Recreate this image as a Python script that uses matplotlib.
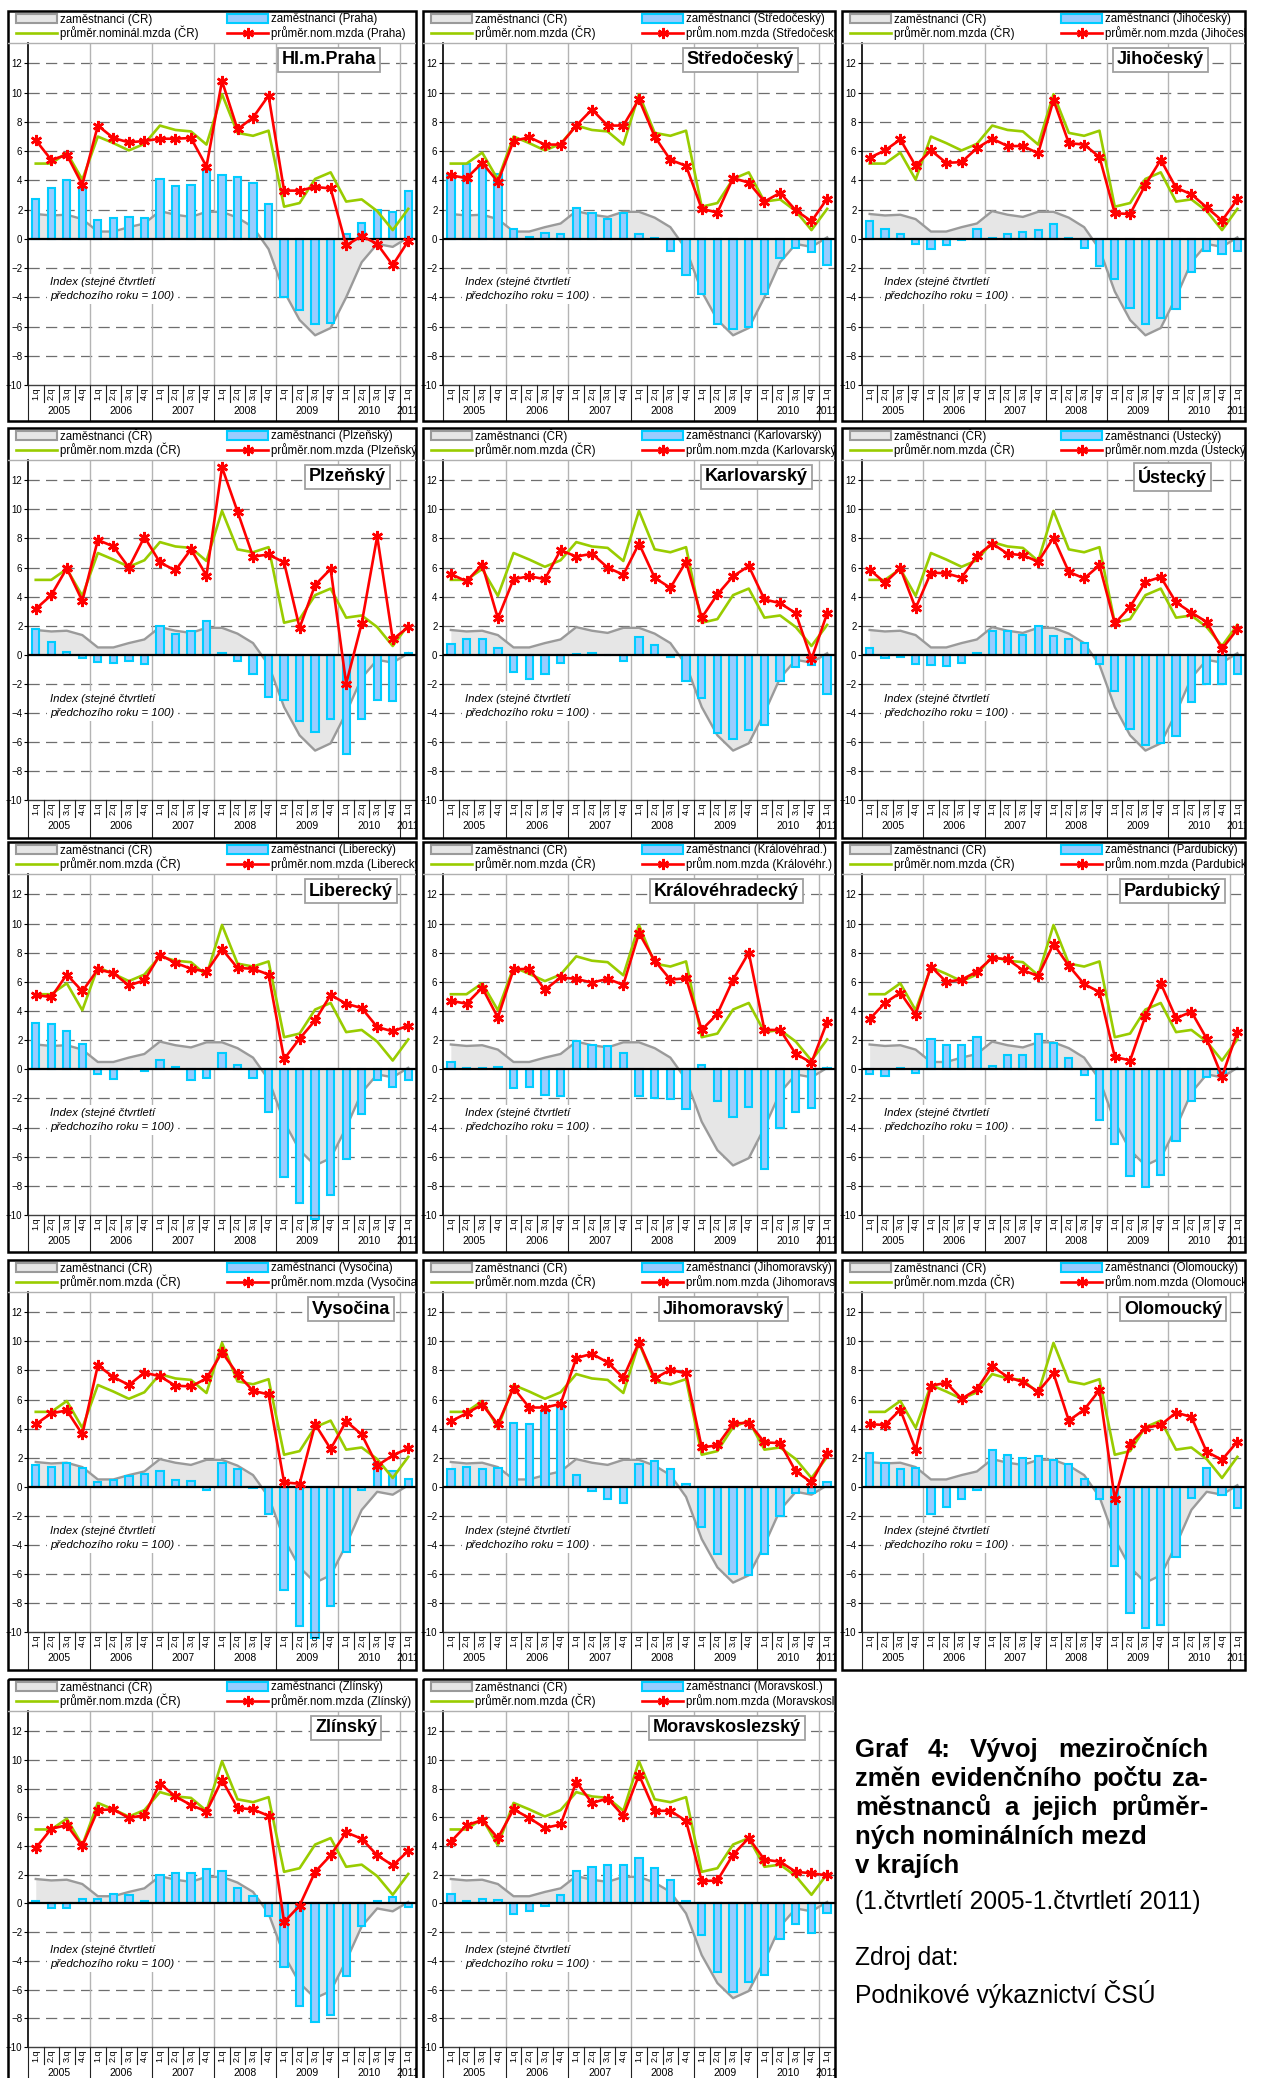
import numpy as np
import matplotlib
matplotlib.use('Agg')
import matplotlib.pyplot as plt
from matplotlib.patches import Rectangle

plt.rcParams['font.family'] = ['Liberation Sans', 'DejaVu Sans']

# ---------------- data ----------------
quarters = ['1.q', '2.q', '3.q', '4.q'] * 6 + ['1.q']
years = ['2005', '2006', '2007', '2008', '2009', '2010', '2011']

emp_cr = [1.7, 1.6, 1.65, 1.35, 0.5, 0.5, 0.8, 1.05, 1.9, 1.65, 1.5, 1.85,
          1.85, 1.45, 0.8, -0.7, -3.6, -5.55, -6.6, -6.1, -4.0, -1.6, -0.35, -0.55, 0.1]
wage_cr = [5.15, 5.15, 5.9, 4.05, 7.0, 6.55, 6.05, 6.5, 7.75, 7.45, 7.35, 6.45,
           9.9, 7.25, 7.05, 7.4, 2.2, 2.45, 4.1, 4.55, 2.55, 2.7, 1.9, 0.6, 2.05]

emp_praha = [2.7, 3.5, 4.0, 3.4, 1.3, 1.4, 1.5, 1.4, 4.1, 3.6, 3.7, 4.7,
             4.4, 4.2, 3.85, 2.4, -4.0, -4.9, -5.8, -5.75, 0.3, 1.1, 1.95, 1.85, 3.3]
wage_praha = [6.75, 5.4, 5.75, 3.7, 7.75, 6.9, 6.6, 6.7, 6.85, 6.85, 6.9, 4.95,
              10.8, 7.5, 8.3, 9.8, 3.3, 3.3, 3.55, 3.45, -0.45, 0.2, -0.35, -1.8, -0.15]

emp_stred = [4.4, 5.1, 5.0, 4.45, 0.65, 0.1, 0.4, 0.3, 2.1, 1.75, 1.35, 1.8,
             0.35, 0.05, -0.8, -2.45, -3.8, -5.8, -6.15, -6.0, -3.8, -1.3, -0.65, -0.9, -1.8]
wage_stred = [4.35, 4.15, 5.2, 3.9, 6.7, 6.95, 6.45, 6.45, 7.75, 8.85, 7.75, 7.75,
              9.55, 7.0, 5.4, 5.0, 2.05, 1.8, 4.15, 3.85, 2.55, 3.15, 1.95, 1.2, 2.75]

emp_jihoc = [1.2, 0.65, 0.35, -0.35, -0.7, -0.4, -0.1, 0.7, 0.05, 0.35, 0.5, 0.6,
             1.0, 0.05, -0.65, -1.85, -2.75, -4.75, -5.85, -5.4, -4.8, -2.25, -0.8, -1.05, -0.8]
wage_jihoc = [5.55, 6.05, 6.8, 5.0, 6.05, 5.2, 5.25, 6.2, 6.85, 6.35, 6.35, 5.85,
              9.5, 6.55, 6.45, 5.6, 1.75, 1.7, 3.7, 5.4, 3.5, 3.05, 2.15, 1.25, 2.7]

emp_plzen = [1.8, 0.85, 0.2, -0.25, -0.5, -0.6, -0.4, -0.65, 1.95, 1.4, 1.6, 2.35,
             0.1, -0.4, -1.35, -2.9, -3.1, -4.55, -5.3, -4.4, -6.8, -4.4, -3.1, -3.2, 0.1]
wage_plzen = [3.15, 4.1, 5.95, 3.7, 7.9, 7.45, 6.0, 8.1, 6.35, 5.8, 7.25, 5.45,
              12.9, 9.85, 6.75, 6.9, 6.35, 1.85, 4.8, 5.9, -2.0, 2.15, 8.15, 1.05, 1.9]

emp_karlov = [0.75, 1.05, 1.1, 0.45, -1.2, -1.65, -1.35, -0.6, 0.05, 0.15, 0.0, -0.4,
              1.2, 0.65, -0.15, -1.8, -3.0, -5.4, -5.8, -5.2, -4.85, -1.8, -0.85, -0.7, -2.7]
wage_karlov = [5.55, 5.05, 6.2, 2.5, 5.2, 5.4, 5.2, 7.2, 6.75, 6.95, 6.0, 5.5,
               7.65, 5.3, 4.6, 6.4, 2.55, 4.15, 5.4, 6.1, 3.8, 3.55, 2.85, -0.3, 2.85]

emp_ustec = [0.45, -0.2, -0.15, -0.65, -0.7, -0.8, -0.55, 0.15, 1.6, 1.6, 1.35, 1.95,
             1.3, 1.1, 0.8, -0.65, -2.5, -5.1, -6.2, -6.05, -5.6, -3.25, -2.0, -2.0, -1.35]
wage_ustec = [5.85, 4.95, 5.95, 3.2, 5.65, 5.6, 5.3, 6.8, 7.65, 6.95, 6.85, 6.4,
              8.05, 5.7, 5.25, 6.15, 2.15, 3.3, 5.0, 5.35, 3.6, 2.9, 2.25, 0.4, 1.75]

emp_liber = [3.2, 3.1, 2.65, 1.75, -0.3, -0.65, 0.05, -0.15, 0.65, 0.15, -0.75, -0.6,
             1.1, 0.3, -0.6, -2.9, -7.4, -9.15, -10.3, -8.6, -6.15, -3.1, -0.75, -1.2, -0.75]
wage_liber = [5.1, 4.95, 6.5, 5.35, 6.85, 6.6, 5.75, 6.1, 7.85, 7.3, 6.9, 6.7,
              8.25, 6.95, 6.9, 6.5, 0.7, 2.1, 3.35, 5.1, 4.5, 4.2, 2.9, 2.6, 3.0]

emp_kralo = [0.5, 0.1, 0.1, 0.15, -1.3, -1.25, -1.75, -1.85, 1.95, 1.65, 1.6, 1.1,
             -1.85, -2.0, -2.05, -2.75, 0.3, -2.2, -3.25, -2.6, -6.85, -4.05, -2.95, -2.65, 0.1]
wage_kralo = [4.7, 4.5, 5.6, 3.55, 6.85, 6.9, 5.45, 6.3, 6.2, 5.95, 6.2, 5.8,
              9.35, 7.45, 6.15, 6.25, 2.7, 3.8, 6.15, 8.0, 2.7, 2.7, 1.05, 0.45, 3.25]

emp_pardu = [-0.3, -0.45, 0.1, -0.25, 2.1, 1.7, 1.7, 2.2, 0.25, 1.0, 0.95, 2.45,
             1.8, 0.75, -0.4, -3.45, -5.15, -7.3, -8.1, -7.25, -4.95, -2.15, -0.55, -0.25, 0.05]
wage_pardu = [3.45, 4.55, 5.25, 3.75, 7.05, 6.0, 6.15, 6.7, 7.65, 7.55, 6.8, 6.4,
              8.6, 7.1, 5.85, 5.3, 0.85, 0.6, 3.65, 5.9, 3.5, 3.95, 2.1, -0.5, 2.55]

emp_vysoc = [1.5, 1.35, 1.6, 1.3, 0.3, 0.45, 0.75, 0.85, 1.05, 0.45, 0.4, -0.25,
             1.6, 1.25, -0.1, -1.85, -7.1, -9.6, -10.4, -8.2, -4.5, -0.25, 1.6, 1.1, 0.55]
wage_vysoc = [4.3, 5.05, 5.25, 3.6, 8.35, 7.55, 7.0, 7.85, 7.6, 6.95, 6.9, 7.45,
              9.25, 7.75, 6.6, 6.35, 0.3, 0.2, 4.3, 2.6, 4.5, 3.6, 1.45, 2.15, 2.65]

emp_jihom = [1.25, 1.35, 1.25, 1.3, 4.4, 4.3, 5.2, 5.6, 0.8, -0.3, -0.85, -1.1,
             1.55, 1.75, 1.25, 0.2, -2.75, -4.6, -6.0, -6.1, -4.65, -2.05, -0.4, -0.45, 0.3]
wage_jihom = [4.5, 5.05, 5.65, 4.3, 6.8, 5.45, 5.45, 5.7, 8.85, 9.15, 8.55, 7.5,
              9.95, 7.45, 8.05, 7.8, 2.7, 2.85, 4.35, 4.4, 3.05, 3.0, 1.05, 0.3, 2.3]

emp_olomo = [2.35, 1.6, 1.25, 1.3, -1.85, -1.4, -0.85, -0.2, 2.5, 2.15, 1.95, 2.1,
             1.85, 1.55, 0.5, -0.85, -5.45, -8.7, -9.7, -9.55, -4.85, -0.75, 1.3, -0.55, -1.5]
wage_olomo = [4.3, 4.25, 5.3, 2.55, 6.95, 7.15, 6.05, 6.7, 8.3, 7.55, 7.2, 6.55,
              7.8, 4.55, 5.3, 6.65, -0.85, 2.95, 4.05, 4.25, 5.1, 4.8, 2.4, 1.85, 3.1]

emp_zlins = [0.15, -0.3, -0.3, 0.3, 0.3, 0.65, 0.6, 0.15, 1.95, 2.15, 2.1, 2.4,
             2.25, 1.05, 0.5, -0.9, -4.4, -7.15, -8.25, -7.75, -5.05, -1.6, 0.15, 0.45, -0.25]
wage_zlins = [3.85, 5.2, 5.45, 4.0, 6.5, 6.55, 5.95, 6.15, 8.35, 7.45, 6.85, 6.4,
              8.6, 6.65, 6.55, 6.1, -1.3, -0.15, 2.2, 3.35, 4.95, 4.5, 3.35, 2.65, 3.65]

emp_morav = [0.65, 0.2, 0.3, 0.25, -0.75, -0.5, -0.15, 0.6, 2.25, 2.55, 2.7, 2.65,
             3.15, 2.45, 1.65, 0.15, -2.2, -4.8, -6.2, -5.45, -5.0, -2.45, -1.4, -2.05, -0.7]
wage_morav = [4.3, 5.45, 5.8, 4.55, 6.55, 5.95, 5.25, 5.5, 8.45, 7.0, 7.3, 6.1,
              8.95, 6.45, 6.45, 5.75, 1.55, 1.6, 3.4, 4.55, 3.05, 2.9, 2.2, 2.1, 1.95]

region_titles = ['Hl.m.Praha', 'Středočeský', 'Jihočeský', 'Plzeňský', 'Karlovarský', 'Ústecký',
                 'Liberecký', 'Královéhradecký', 'Pardubický', 'Vysočina', 'Jihomoravský',
                 'Olomoucký', 'Zlínský', 'Moravskoslezský']
legend_emp = ['zaměstnanci (Praha)', 'zaměstnanci (Středočeský)', 'zaměstnanci (Jihočeský)',
              'zaměstnanci (Plzeňský)', 'zaměstnanci (Karlovarský)', 'zaměstnanci (Ústecký)',
              'zaměstnanci (Liberecký)', 'zaměstnanci (Královéhrad.)', 'zaměstnanci (Pardubický)',
              'zaměstnanci (Vysočina)', 'zaměstnanci (Jihomoravský)', 'zaměstnanci (Olomoucký)',
              'zaměstnanci (Zlínský)', 'zaměstnanci (Moravskosl.)']
legend_wcr = ['průměr.nominál.mzda (ČR)'] + ['průměr.nom.mzda (ČR)'] * 13
legend_wreg = ['průměr.nom.mzda (Praha)', 'prům.nom.mzda (Středočeský)', 'průměr.nom.mzda (Jihočeský)',
               'průměr.nom.mzda (Plzeňský)', 'prům.nom.mzda (Karlovarský)', 'průměr.nom.mzda (Ústecký)',
               'průměr.nom.mzda (Liberecký)', 'prům.nom.mzda (Královéhr.)', 'prům.nom.mzda (Pardubický)',
               'průměr.nom.mzda (Vysočina)', 'prům.nom.mzda (Jihomoravs.)', 'prům.nom.mzda (Olomoucký)',
               'průměr.nom.mzda (Zlínský)', 'prům.nom.mzda (Moravskosl.)']
emp_series = [emp_praha, emp_stred, emp_jihoc, emp_plzen, emp_karlov, emp_ustec, emp_liber,
              emp_kralo, emp_pardu, emp_vysoc, emp_jihom, emp_olomo, emp_zlins, emp_morav]
wage_series = [wage_praha, wage_stred, wage_jihoc, wage_plzen, wage_karlov, wage_ustec, wage_liber,
               wage_kralo, wage_pardu, wage_vysoc, wage_jihom, wage_olomo, wage_zlins, wage_morav]

caption_bold = ['Graf 4: Vývoj meziročních', 'změn evidenčního počtu za-',
                'městnanců a jejich průměr-', 'ných nominálních mezd', 'v krajích']
caption_period = '(1.čtvrtletí 2005-1.čtvrtletí 2011)'
caption_source = ['Zdroj dat:', 'Podnikové výkaznictví ČSÚ']
index_note = 'Index (stejné čtvrtletí\npředchozího roku = 100)'

# ---------------- layout ----------------
W, H = 1264, 2078
fig = plt.figure(figsize=(W / 100, H / 100), dpi=100)
fig.patch.set_facecolor('white')

cols = [(8, 416), (423, 835), (842, 1245)]
rows_top = [11, 428, 842, 1260, 1679]
rows_ph = [374, 372, 373, 372, 368]
title_off = [36, 37, 37, 26, 23, 34, 19, 32, 20, 22, 47, 19, 35, 30]

C_AREA, C_AREA_E = '#e6e6e6', '#9a9a9a'
C_BAR, C_BAR_E = '#99ccff', '#00ccff'
C_GREEN, C_RED = '#99cc00', '#ff0000'
STAR = (6, 2, 0)


def axpx(l, t, r, b):
    return fig.add_axes([l / W, 1 - b / H, (r - l) / W, (b - t) / H])


def panel(i, L, R, T, ph):
    pl, pt, pb, bot = L + 20, T + 32, T + ph, T + 410
    x = np.arange(len(quarters))
    ax = axpx(pl, pt, R, pb)
    ax.patch.set_visible(False)
    ax.set_xlim(-0.5, 24.5)
    ax.set_ylim(-10, 13.4)
    for y in range(-8, 13, 2):
        if y != 0:
            ax.axhline(y, color='#6e6e6e', lw=0.9, ls=(0, (9, 5)), zorder=0)
    for xv in [3.5, 7.5, 11.5, 15.5, 19.5, 23.5]:
        ax.axvline(xv, color='#b4b4b4', lw=1.0, zorder=0)
    ax.fill_between(x, 0, emp_cr, color=C_AREA, lw=0, zorder=1)
    ax.plot(x, emp_cr, color=C_AREA_E, lw=1.7, zorder=1.5)
    ax.bar(x, emp_series[i], width=0.47, color=C_BAR, edgecolor=C_BAR_E, lw=1.5,
           zorder=2, clip_on=False)
    ax.axhline(0, color='black', lw=1.6, zorder=3)
    ax.plot(x, wage_cr, color=C_GREEN, lw=1.9, zorder=4)
    ax.plot(x, wage_series[i], color=C_RED, lw=1.9, marker=STAR, ms=8, mew=1.8, zorder=5)
    ax.set_yticks(range(-10, 13, 2))
    ax.set_xticks([])
    ax.tick_params(axis='y', labelsize=7, length=3, width=0.8, pad=1)
    for s in ['top', 'right']:
        ax.spines[s].set_visible(False)
    ax.spines['left'].set_color('black')
    ax.spines['left'].set_linewidth(1.2)
    ax.spines['bottom'].set_color('#404040')
    ax.spines['bottom'].set_linewidth(1.0)
    # region title box
    ax.text((R - title_off[i] - 4 - pl) / (R - pl), (pb - (T + 49)) / (pb - pt), region_titles[i],
            transform=ax.transAxes, ha='right', va='center', fontsize=13, fontweight='bold',
            bbox=dict(boxstyle='square,pad=0.2', fc='white', ec='#a0a0a0', lw=1.3), zorder=6)
    ax.text((L + 42 - pl) / (R - pl), (pb - (T + 278)) / (pb - pt), index_note,
            transform=ax.transAxes, ha='left', va='center', fontsize=8.2, style='italic',
            linespacing=1.5, bbox=dict(boxstyle='square,pad=0.3', fc='white', ec='none'),
            zorder=0.5)
    # category axis band
    lab = axpx(pl, pb, R, bot)
    lab.set_xlim(-0.5, 24.5)
    lab.set_ylim(bot - pb, 0)
    lab.axis('off')
    for k in range(len(quarters) + 1):
        xb = k - 0.5
        long = (k % 4 == 0) or k == len(quarters)
        lab.plot([xb, xb], [0, (bot - pb) if long else 17], color='#222222', lw=0.8,
                 clip_on=False)
    for k, q in enumerate(quarters):
        lab.text(k, 8.5, q, rotation=90, ha='center', va='center', fontsize=6.5)
    for k, yv in enumerate(years):
        xc = 4 * k + 1.5 if k < 6 else 24
        lab.text(xc, 26, yv, ha='center', va='center', fontsize=7.5, clip_on=True)
    # frame + legend
    fa = axpx(L, T, R, bot)
    fa.set_xlim(L, R)
    fa.set_ylim(bot, T)
    fa.axis('off')
    fa.patch.set_visible(False)
    fa.add_patch(Rectangle((L, T), R - L, bot - T, fill=False, ec='black', lw=1.8, clip_on=False))
    fa.plot([L, R], [T + 32, T + 32], color='#b0b0b0', lw=1)
    fa.add_patch(Rectangle((L + 8, T + 3), 41, 9, fc=C_AREA, ec=C_AREA_E, lw=1.5))
    fa.text(L + 52, T + 8, 'zaměstnanci (ČR)', va='center', fontsize=8.3, clip_on=True)
    fa.add_patch(Rectangle((L + 219, T + 3), 41, 9, fc=C_BAR, ec=C_BAR_E, lw=1.5))
    fa.text(L + 263, T + 8, legend_emp[i], va='center', fontsize=8.3, clip_on=True)
    fa.plot([L + 8, L + 49], [T + 22, T + 22], color=C_GREEN, lw=1.9)
    fa.text(L + 52, T + 22, legend_wcr[i], va='center', fontsize=8.3, clip_on=True)
    fa.plot([L + 219, L + 260], [T + 22, T + 22], color=C_RED, lw=1.9)
    fa.plot([L + 239.5], [T + 22], marker=STAR, ms=8, mew=1.8, color=C_RED)
    fa.text(L + 263, T + 22, legend_wreg[i], va='center', fontsize=8.3, clip_on=True)


for i in range(len(region_titles)):
    r, c = divmod(i, 3)
    L, R = cols[c]
    panel(i, L, R, rows_top[r], rows_ph[r])

# ---------------- caption ----------------
renderer = fig.canvas.get_renderer()


def justify(line, x0, x1, yb, **kw):
    words = line.split()
    ts = [fig.text(0, 1 - yb / H, w, va='baseline', **kw) for w in words]
    widths = [t.get_window_extent(renderer=renderer).width for t in ts]
    gap = (x1 - x0 - sum(widths)) / (len(words) - 1)
    xx = x0
    for t, w in zip(ts, widths):
        t.set_x(xx / W)
        xx += w + gap


cap_x0, cap_x1 = 855, 1208
bold_base = [1757, 1786, 1815, 1844, 1873]
for k, line in enumerate(caption_bold):
    if k < 3:
        justify(line, cap_x0, cap_x1, bold_base[k], fontsize=18.5, fontweight='bold')
    else:
        fig.text(cap_x0 / W, 1 - bold_base[k] / H, line, va='baseline', fontsize=18.5,
                 fontweight='bold')
fig.text(cap_x0 / W, 1 - 1909 / H, caption_period, va='baseline', fontsize=17.7)
fig.text(cap_x0 / W, 1 - 1965 / H, caption_source[0], va='baseline', fontsize=17.7)
fig.text(cap_x0 / W, 1 - 2003 / H, caption_source[1], va='baseline', fontsize=17.7)

fig.savefig('out.png', dpi=100, facecolor='white')
